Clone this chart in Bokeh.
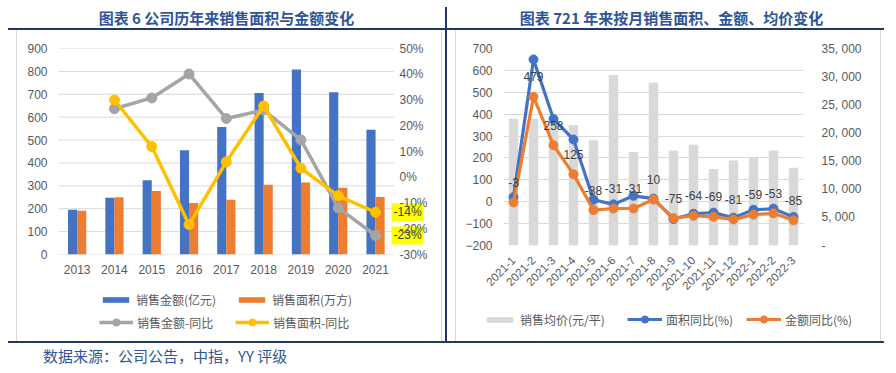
import math
from bokeh.plotting import figure
from bokeh.models import (FactorRange, Range1d, LinearAxis, FixedTicker, NumeralTickFormatter,
                          CustomJSTickFormatter, ColumnDataSource, Legend, LegendItem, Div, Spacer)
from bokeh.layouts import row, column
from bokeh.transform import dodge
from bokeh.core.properties import value
from bokeh.embed import file_html
from bokeh.resources import INLINE

FONT = "Noto Sans CJK SC"
NUMFONT = "Liberation Sans"
NAN = float("nan")

# ---------------- data: left chart ----------------
years = ["2013", "2014", "2015", "2016", "2017", "2018", "2019", "2020", "2021"]
sales_amount = [196, 248, 324, 455, 557, 706, 808, 709, 545]      # 销售金额(亿元)
sales_area = [191, 250, 277, 225, 239, 305, 315, 292, 251]        # 销售面积(万方)
yoy_years = years[1:]
amount_yoy = [0.266, 0.308, 0.401, 0.228, 0.261, 0.145, -0.119, -0.226]   # 销售金额-同比
area_yoy = [0.300, 0.119, -0.184, 0.060, 0.277, 0.035, -0.072, -0.136]    # 销售面积-同比
left_ticks = [0, 100, 200, 300, 400, 500, 600, 700, 800, 900]
pct_ticks = [-0.3, -0.2, -0.1, 0.0, 0.1, 0.2, 0.3, 0.4, 0.5]

# ---------------- data: right chart ----------------
months = ["2021-1", "2021-2", "2021-3", "2021-4", "2021-5", "2021-6", "2021-7", "2021-8",
          "2021-9", "2021-10", "2021-11", "2021-12", "2022-1", "2022-2", "2022-3"]
avg_price = [22500, 22500, 22200, 21400, 18700, 30300, 16600, 28900,
             16900, 17900, 13600, 15100, 15600, 16900, 13800]          # 销售均价(元/平)
area_yoy_m = [21, 650, 378, 284, 9, -12, 27, 14, -79, -55, -50, -73, -37, -32, -70]      # 面积同比(%)
amount_yoy_m = [-3, 479, 258, 125, -38, -31, -31, 10, -75, -64, -69, -81, -59, -53, -85]  # 金额同比(%)
right_left_ticks = [-200, -100, 0, 100, 200, 300, 400, 500, 600, 700]
price_ticks = [0, 5000, 10000, 15000, 20000, 25000, 30000, 35000]

NAVY = "#203864"
TITLE_BLUE = "#2F5597"
GRID = "#D9D9D9"
TICK_COLOR = "#595959"
BLUE = "#4472C4"
ORANGE = "#ED7D31"
GRAY = "#A5A5A5"
YELLOW = "#FFC000"

FIG_W, BOX_H = 424, 311


def style_axes(p):
    for ax in list(p.yaxis) + list(p.xaxis):
        ax.major_tick_line_color = None
        ax.minor_tick_line_color = None
        ax.major_tick_out = 0
        ax.major_tick_in = 0
        ax.minor_tick_out = 0
        ax.axis_line_color = None
        ax.major_label_text_font = NUMFONT
        ax.major_label_text_font_size = "12px"
        ax.major_label_text_color = TICK_COLOR
    p.xgrid.grid_line_color = None
    p.ygrid.grid_line_color = GRID


def pct_label(v):
    return "%d%%" % round(v * 100)


def make_legend(items, loc, gw, gh, lw, sp):
    return Legend(items=items, location=loc, orientation="horizontal",
                  glyph_width=gw, glyph_height=gh, label_width=lw, label_height=18,
                  spacing=sp, label_standoff=4, padding=0, margin=0,
                  border_line_color=None, background_fill_alpha=0, label_text_font=FONT,
                  label_text_font_size="12px", label_text_color=TICK_COLOR)


def legend_fig(h):
    f = figure(width=FIG_W, height=h, x_range=Range1d(0, 1), y_range=Range1d(0, 1),
               x_axis_location=None, y_axis_location=None, min_border=0,
               output_backend="svg", toolbar_location=None, outline_line_color=None,
               frame_align=False, background_fill_color="white", border_fill_color="white")
    f.xgrid.visible = False
    f.ygrid.visible = False
    return f


# ---------------- left figure ----------------
# one blank category after 2021 gives room inside the frame for the end labels
P1_TOP, P1_FRAME, P1_BOT = 18, 206, 30
P1_H = P1_TOP + P1_FRAME + P1_BOT
p1 = figure(width=FIG_W, height=P1_H, x_range=FactorRange(factors=years + [" "]),
            y_range=Range1d(0, 900), output_backend="svg", toolbar_location=None,
            min_border_left=41, min_border_right=10, min_border_top=P1_TOP,
            min_border_bottom=P1_BOT, outline_line_color=None, frame_align=False,
            background_fill_color="white", border_fill_color="white")
p1.extra_y_ranges = {"pct": Range1d(-0.3, 0.5)}
p1.yaxis.ticker = FixedTicker(ticks=left_ticks)
p1.yaxis.major_label_standoff = 11
ax_r = LinearAxis(y_range_name="pct", ticker=FixedTicker(ticks=pct_ticks),
                  formatter=NumeralTickFormatter(format="0%"), major_label_standoff=-32)
p1.add_layout(ax_r, "right")
style_axes(p1)
p1.ygrid.grid_line_color = None
p1.xaxis.major_label_standoff = 8

# horizontal gridlines over the nine year categories only
p1.segment(x0=0, x1=len(years), y0=left_ticks, y1=left_ticks, line_color=GRID, line_width=1)

src_l = ColumnDataSource(dict(year=years, amount=sales_amount, area=sales_area))
p1.vbar(x=dodge("year", -0.122, range=p1.x_range), top="amount", width=0.245,
        source=src_l, fill_color=BLUE, line_color=None)
p1.vbar(x=dodge("year", 0.122, range=p1.x_range), top="area", width=0.245,
        source=src_l, fill_color=ORANGE, line_color=None)

src_y = ColumnDataSource(dict(year=yoy_years, amt=amount_yoy, area=area_yoy))
p1.line("year", "amt", source=src_y, y_range_name="pct", line_color=GRAY,
        line_width=3.5, line_join="round")
p1.scatter("year", "amt", source=src_y, y_range_name="pct", size=10,
           fill_color=GRAY, line_color=GRAY)
p1.line("year", "area", source=src_y, y_range_name="pct", line_color=YELLOW,
        line_width=3.5, line_join="round")
p1.scatter("year", "area", source=src_y, y_range_name="pct", size=10,
           fill_color=YELLOW, line_color=YELLOW)

lab_src = ColumnDataSource(dict(year=[yoy_years[-1], yoy_years[-1]],
                                v=[area_yoy[-1], amount_yoy[-1]],
                                t=[pct_label(area_yoy[-1]), pct_label(amount_yoy[-1])]))
p1.text("year", "v", text="t", source=lab_src, y_range_name="pct", x_offset=16,
        text_align="left", text_baseline="middle", text_font=value(NUMFONT),
        text_font_size="12px", text_color="#404040",
        background_fill_color="#FFFF00", padding=2)

# legend strip for the left chart (legend swatches only: renderers hold no visible point)
lf1 = legend_fig(BOX_H - P1_H)
g_amt = lf1.vbar(x=[NAN], top=[NAN], width=0.1, fill_color=BLUE, line_color=None)
g_area = lf1.vbar(x=[NAN], top=[NAN], width=0.1, fill_color=ORANGE, line_color=None)
g_l1 = lf1.line(x=[NAN], y=[NAN], line_color=GRAY, line_width=3.5)
g_s1 = lf1.scatter(x=[NAN], y=[NAN], size=10, fill_color=GRAY, line_color=GRAY)
g_l2 = lf1.line(x=[NAN], y=[NAN], line_color=YELLOW, line_width=3.5)
g_s2 = lf1.scatter(x=[NAN], y=[NAN], size=10, fill_color=YELLOW, line_color=YELLOW)
lf1.add_layout(make_legend([LegendItem(label="销售金额(亿元)", renderers=[g_amt]),
                            LegendItem(label="销售面积(万方)", renderers=[g_area])],
                           (82, 33), 33, 7, 95, 4))
lf1.add_layout(make_legend([LegendItem(label="销售金额-同比", renderers=[g_l1, g_s1]),
                            LegendItem(label="销售面积-同比", renderers=[g_l2, g_s2])],
                           (82, 10), 34, 18, 94, 4))

# ---------------- right figure ----------------
P2_TOP, P2_FRAME, P2_BOT = 18, 197, 60
P2_H = P2_TOP + P2_FRAME + P2_BOT
p2 = figure(width=FIG_W, height=P2_H, x_range=FactorRange(factors=months),
            y_range=Range1d(-200, 700), output_backend="svg", toolbar_location=None,
            min_border_left=47, min_border_right=77, min_border_top=P2_TOP,
            min_border_bottom=P2_BOT, outline_line_color=None, frame_align=False,
            background_fill_color="white", border_fill_color="white")
p2.extra_y_ranges = {"price": Range1d(0, 35000)}
p2.yaxis.ticker = FixedTicker(ticks=right_left_ticks)
p2.yaxis.major_label_standoff = 11
fmt = CustomJSTickFormatter(code="""
const t = Math.round(tick);
if (t === 0) { return '-'; }
const th = Math.floor(t / 1000);
const r = String(t % 1000).padStart(3, '0');
return th > 0 ? th + ', ' + r : String(t);
""")
ax_r2 = LinearAxis(y_range_name="price", ticker=FixedTicker(ticks=price_ticks),
                   formatter=fmt, major_label_standoff=18)
p2.add_layout(ax_r2, "right")
style_axes(p2)
p2.xaxis.major_label_standoff = 13
p2.xaxis.major_label_text_font_size = "11.5px"
p2.xaxis.major_label_orientation = math.pi / 4

src_r = ColumnDataSource(dict(month=months, price=avg_price, area=area_yoy_m, amt=amount_yoy_m,
                              lbl=[str(v) for v in amount_yoy_m]))
p2.vbar(x="month", top="price", width=0.47, source=src_r, y_range_name="price",
        fill_color="#D9D9D9", line_color=None)
p2.line("month", "area", source=src_r, line_color=BLUE, line_width=3.2, line_join="round")
p2.scatter("month", "area", source=src_r, size=9, fill_color=BLUE, line_color=BLUE)
p2.line("month", "amt", source=src_r, line_color=ORANGE, line_width=3.2, line_join="round")
p2.scatter("month", "amt", source=src_r, size=9, fill_color=ORANGE, line_color=ORANGE)
p2.text("month", "amt", text="lbl", source=src_r, y_offset=-20, text_align="center",
        text_baseline="middle", text_font=value(NUMFONT), text_font_size="12px",
        text_color="#404040")

lf2 = legend_fig(BOX_H - P2_H)
g_pr = lf2.vbar(x=[NAN], top=[NAN], width=0.1, fill_color="#D9D9D9", line_color=None)
g_l3 = lf2.line(x=[NAN], y=[NAN], line_color=BLUE, line_width=3.2)
g_s3 = lf2.scatter(x=[NAN], y=[NAN], size=9, fill_color=BLUE, line_color=BLUE)
g_l4 = lf2.line(x=[NAN], y=[NAN], line_color=ORANGE, line_width=3.2)
g_s4 = lf2.scatter(x=[NAN], y=[NAN], size=9, fill_color=ORANGE, line_color=ORANGE)
lf2.add_layout(make_legend([LegendItem(label="销售均价(元/平)", renderers=[g_pr])],
                           (27, 13), 33, 7, 60, 4))
lf2.add_layout(make_legend([LegendItem(label="面积同比(%)", renderers=[g_l3, g_s3]),
                            LegendItem(label="金额同比(%)", renderers=[g_l4, g_s4])],
                           (171, 13), 35, 18, 72, 8))

# ---------------- page layout ----------------


def bar_div(w, h, color):
    return Div(text="", width=w, height=h, margin=0, styles={"background-color": color})


title_style = {"font-family": FONT, "font-size": "15px", "font-weight": "bold",
               "color": TITLE_BLUE, "text-align": "center", "line-height": "21px",
               "white-space": "nowrap"}
t_left = Div(text="图表 6 公司历年来销售面积与金额变化", width=437, height=21, margin=0,
             styles=title_style)
t_right = Div(text='<span style="position:relative;left:6px">图表 721 年来按月销售面积、金额、均价变化</span>',
              width=437, height=21, margin=0, styles=title_style)
title_row = row(t_left, bar_div(2, 21, NAVY), t_right, spacing=0)

H = BOX_H
charts_row = row(Spacer(width=8, height=H), bar_div(1, H, GRID), column(p1, lf1, spacing=0),
                 bar_div(1, H, GRID), Spacer(width=3, height=H), bar_div(2, H, NAVY),
                 Spacer(width=8, height=H), bar_div(1, H, GRID), column(p2, lf2, spacing=0),
                 bar_div(1, H, GRID), Spacer(width=3, height=H), spacing=0)

source_div = Div(text='<span style="position:relative;left:35px;top:3px">数据来源：公司公告，中指，YY 评级</span>',
                 width=876, height=20, margin=0,
                 styles={"font-family": FONT, "font-size": "15px", "color": TITLE_BLUE,
                         "line-height": "20px", "white-space": "nowrap"})

main = column(Spacer(width=876, height=7), title_row, bar_div(876, 2, NAVY), charts_row,
              bar_div(876, 2, NAVY), source_div, spacing=0)
page = row(Spacer(width=8, height=363), main, spacing=0)

open("out.html", "w").write(file_html(page, INLINE))
